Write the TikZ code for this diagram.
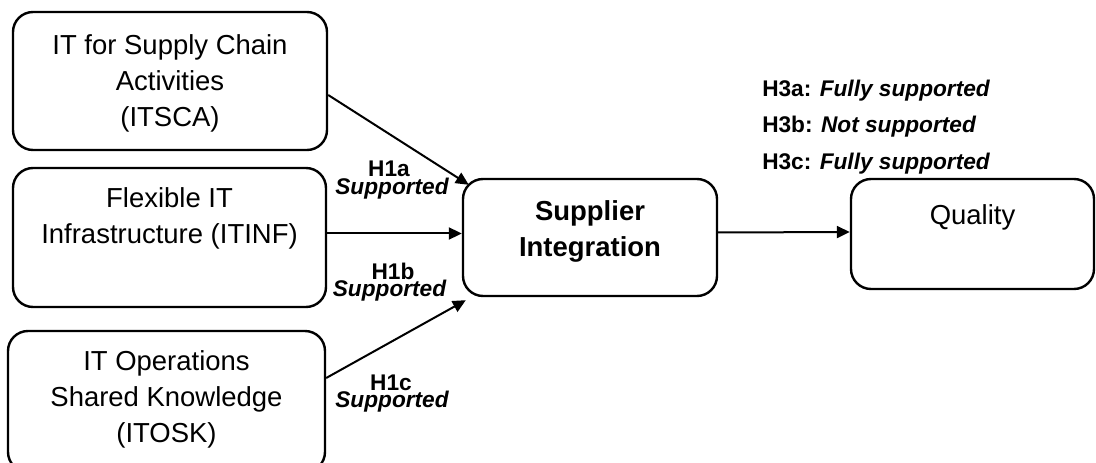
\documentclass[tikz,border=0pt]{standalone}
\usepackage{fontspec}
\setmainfont{Liberation Sans}
\usetikzlibrary{arrows.meta}
\newdimen\px \px=0.75pt
\begin{document}
\begin{tikzpicture}[x=0.75pt,y=-0.75pt,
  box/.style={draw, line width=1.8pt, rounded corners=15pt, inner sep=0pt, shape=rectangle},
  boxtext/.style={align=center, font=\fontsize{20.6}{27}\selectfont, execute at begin node=\strut, execute at end node=\strut, inner sep=0pt},
  arr/.style={line width=1.5pt, -{Triangle[length=9.75pt,width=9pt]}},
  hyp/.style={font=\fontsize{17}{18}\selectfont\bfseries, anchor=base, inner sep=0pt},
  sup/.style={font=\fontsize{17}{18}\selectfont\bfseries\itshape, anchor=base, inner sep=0pt},
  res/.style={font=\fontsize{17}{18}\selectfont, anchor=base west, inner sep=0pt},
]
\useasboundingbox (0,0) rectangle (1096,463);
\clip (0,0) rectangle (1096,463);

% boxes
\node[box, minimum width={314*\px}, minimum height={138*\px}] (itsca) at (170,81) {};
\node[box, minimum width={313*\px}, minimum height={139*\px}] (itinf) at (169.5,237.5) {};
\node[box, minimum width={317*\px}, minimum height={141*\px}] (itosk) at (166.5,401.5) {};
\node[box, minimum width={254*\px}, minimum height={117*\px}] (si) at (590,237.5) {};
\node[box, minimum width={243*\px}, minimum height={110*\px}] (qual) at (972.5,234) {};

% box texts
\node[boxtext] (t-itsca) at (170,85.8) {IT for Supply Chain\\Activities\\(ITSCA)};
\node[boxtext] (t-itinf) at (169.5,220.8) {Flexible IT\\Infrastructure (ITINF)};
\node[boxtext] (t-itosk) at (166.5,401.8) {IT Operations\\Shared Knowledge\\(ITOSK)};
\node[boxtext, font=\fontsize{20.6}{27}\selectfont\bfseries] (t-si) at (590,233.8) {Supplier\\Integration};
\node[boxtext] (t-qual) at (972.5,217.8) {Quality};

% connectors
\draw[arr] ([shift={(0,14)}]itsca.east) -- ([shift={(7,7)}]si.north west);
\draw[arr] ([shift={(0,-4)}]itinf.east) -- ([shift={(0,-4)}]si.west);
\draw[arr] ([shift={(0,-23.5)}]itosk.east) -- ([shift={(4,3)}]si.south west);
\draw[arr] ([shift={(0,-5)}]si.east) -- ([shift={(0,-2)}]qual.west);

% hypothesis labels
\node[hyp] (h1a) at (389,177) {H1a};
\node[sup] (s1a) at (392,195) {Supported};
\node[hyp] (h1b) at (393,280) {H1b};
\node[sup] (s1b) at (389.5,297) {Supported};
\node[hyp] (h1c) at (391,390) {H1c};
\node[sup] (s1c) at (392,407) {Supported};

\node[res] (h3a) at (762,97) {\bfseries H3a: \itshape Fully supported};
\node[res] (h3b) at (762,133) {\bfseries H3b: \itshape Not supported};
\node[res] (h3c) at (762,170) {\bfseries H3c: \itshape Fully supported};
\end{tikzpicture}
\end{document}
